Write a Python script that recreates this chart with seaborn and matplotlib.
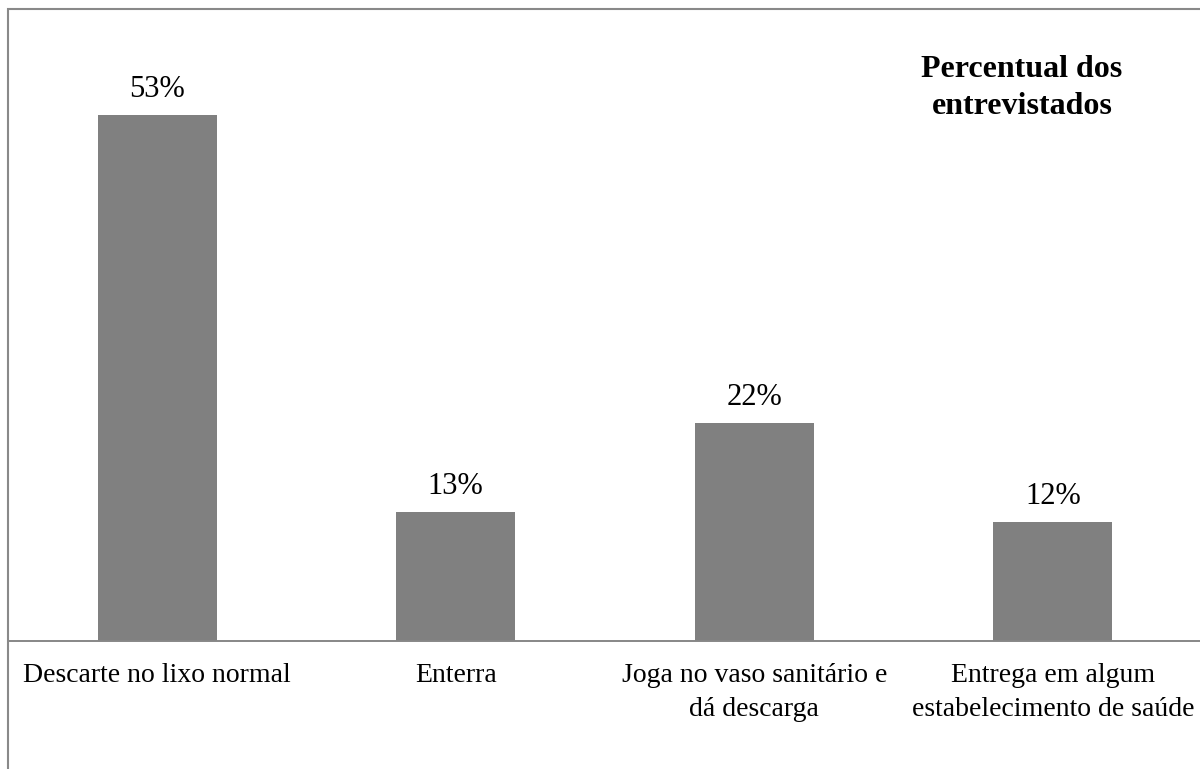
import matplotlib
matplotlib.use("Agg")
import matplotlib.pyplot as plt
from matplotlib.patches import Rectangle
import seaborn as sns
import pandas as pd

# Destination given to leftover medicines (% of respondents)
categories = [
    "Descarte no lixo normal",
    "Enterra",
    "Joga no vaso sanitário e\ndá descarga",
    "Entrega em algum\nestabelecimento de saúde",
]
percentages = [53, 13, 22, 12]
title_text = "Percentual dos\nentrevistados"

df = pd.DataFrame({"categoria": categories, "percentual": percentages})

sns.set_theme(style="white")
plt.rcParams["font.family"] = ["Liberation Serif", "DejaVu Serif"]

W, H = 1200, 769
fig = plt.figure(figsize=(W / 100, H / 100), dpi=100)
fig.patch.set_facecolor("white")

# plot area in pixel terms: x axis line at y=641, frame top at y=9
left_px, right_px = 8, 1202
bottom_px, top_px = 641, 9
ax = fig.add_axes([
    left_px / W,
    (H - bottom_px) / H,
    (right_px - left_px) / W,
    (bottom_px - top_px) / H,
])

sns.barplot(data=df, x="categoria", y="percentual", color="#808080",
            saturation=1, width=0.4, ax=ax, edgecolor="none")

ax.set_xlim(-0.5, 3.5)
ax.set_ylim(0, 63.7)

for c in ax.containers:
    ax.bar_label(c, labels=[f"{v}%" for v in percentages], padding=8,
                 fontsize=22, color="black")

ax.set_xlabel("")
ax.set_ylabel("")
ax.set_yticks([])
ax.tick_params(axis="x", length=0, pad=16, labelsize=20, labelcolor="black")
for lab in ax.get_xticklabels():
    lab.set_horizontalalignment("center")
    lab.set_multialignment("center")
    lab.set_linespacing(1.45)

for side in ["left", "right", "top"]:
    ax.spines[side].set_visible(False)
ax.spines["bottom"].set_color("#878787")
ax.spines["bottom"].set_linewidth(1.4)
ax.set_facecolor("none")

ax.text(1022 / W, (H - 88) / H, title_text, transform=fig.transFigure,
        ha="center", va="center", fontsize=23, fontweight="bold",
        linespacing=1.4, color="black")

# chart-area border (left and top edges visible)
fig.patches.append(Rectangle((left_px / W, -0.2), 1.2, (H - top_px) / H + 0.2,
                             transform=fig.transFigure, fill=False,
                             edgecolor="#898989", linewidth=1.5, zorder=0))

fig.savefig("out.png", dpi=100)
